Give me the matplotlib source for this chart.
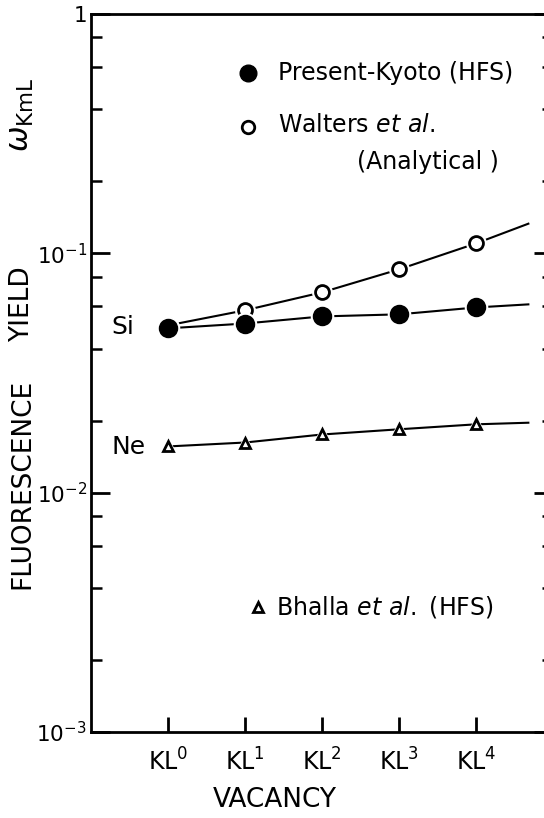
import matplotlib.pyplot as plt

# vacancy states on the x axis
vacancy = [0, 1, 2, 3, 4]
vacancy_labels = [r'$\mathrm{KL}^{0}$', r'$\mathrm{KL}^{1}$', r'$\mathrm{KL}^{2}$',
                  r'$\mathrm{KL}^{3}$', r'$\mathrm{KL}^{4}$']

# fluorescence yields
si_kyoto = [0.0486, 0.0509, 0.0545, 0.0556, 0.0594]
si_walters = [0.0500, 0.0578, 0.0687, 0.0857, 0.110]
ne_bhalla = [0.0156, 0.0162, 0.0175, 0.0184, 0.0193]

# the curves run on a little past KL4
end_x = 4.68
si_kyoto_end = 0.0612
si_walters_end = 0.133
ne_bhalla_end = 0.0196

yticks = [1e-3, 1e-2, 1e-1, 1]
ytick_labels = [r'$10^{-3}$', r'$10^{-2}$', r'$10^{-1}$', '1']
minor = [m * 10.0 ** e for e in (-3, -2, -1) for m in (2, 4, 6, 8)]

plt.rcParams['font.family'] = 'DejaVu Sans'
fig = plt.figure(figsize=(5.44, 8.18), dpi=100)
ax = fig.add_axes([91 / 544, 86 / 818, 462 / 544, 718 / 818])


def curve(y, yend, marker, ms, filled, z):
    xs = vacancy + [end_x]
    ys = y + [yend]
    ax.plot(xs, ys, color='black', lw=1.5, zorder=z)
    # white halo so the line stops short of the marker
    ax.plot(vacancy, y, ls='none', marker=marker, ms=ms + 4, mfc='white',
            mec='white', zorder=z + 0.1)
    ax.plot(vacancy, y, ls='none', marker=marker, ms=ms,
            mfc='black' if filled else 'white', mec='black', mew=2,
            zorder=z + 0.2)


curve(si_walters, si_walters_end, 'o', 10, False, 2)
curve(si_kyoto, si_kyoto_end, 'o', 12, True, 3)
curve(ne_bhalla, ne_bhalla_end, '^', 7, False, 2)

ax.set_yscale('log')
ax.set_ylim(1e-3, 1)
ax.set_xlim(-1, 5)
ax.set_yticks(yticks)
ax.set_yticklabels(ytick_labels, fontsize=15.5)
ax.set_yticks(minor, minor=True)
ax.set_yticklabels([], minor=True)
ax.set_xticks(vacancy)
ax.set_xticklabels(vacancy_labels, fontsize=17)
ax.tick_params(axis='y', which='major', direction='in', length=14, width=2,
               right=True, pad=3)
ax.tick_params(axis='y', which='minor', direction='in', length=8, width=1.8,
               right=True)
ax.tick_params(axis='x', which='major', direction='in', length=11, width=2,
               pad=12)
for s in ax.spines.values():
    s.set_linewidth(2)

# in-plot labels and key
ax.text(0.045, 0.564, 'Si', transform=ax.transAxes, fontsize=18, va='center')
ax.text(0.045, 0.397, 'Ne', transform=ax.transAxes, fontsize=18, va='center')

ax.plot([0.340], [0.918], 'o', ms=12, color='black', transform=ax.transAxes)
ax.text(0.405, 0.918, 'Present-Kyoto (HFS)', transform=ax.transAxes,
        fontsize=17, va='center')
ax.plot([0.340], [0.843], 'o', ms=9, mfc='white', mec='black', mew=2,
        transform=ax.transAxes)
ax.text(0.405, 0.845, r'Walters $\it{et\ al.}$', transform=ax.transAxes,
        fontsize=17, va='center')
ax.text(0.575, 0.794, '(Analytical )', transform=ax.transAxes, fontsize=17,
        va='center')
ax.plot([0.361], [0.174], '^', ms=7, mfc='white', mec='black', mew=2,
        transform=ax.transAxes)
ax.text(0.400, 0.174, r'Bhalla $\it{et\ al.}$ (HFS)', transform=ax.transAxes,
        fontsize=17, va='center')

# y axis title, words spread out as in the original
fig.text(22 / 544, 1 - 484 / 818, 'FLUORESCENCE', rotation=90, ha='center',
         va='center', fontsize=19)
fig.text(22 / 544, 1 - 304 / 818, 'YIELD', rotation=90, ha='center',
         va='center', fontsize=19)
fig.text(22 / 544, 1 - 115 / 818, r'$\omega_{\mathrm{KmL}}$', rotation=90,
         ha='center', va='center', fontsize=22)
fig.text(0.505, 1 - 800 / 818, 'VACANCY', ha='center', va='center',
         fontsize=19)

fig.savefig('out.png', dpi=100)
